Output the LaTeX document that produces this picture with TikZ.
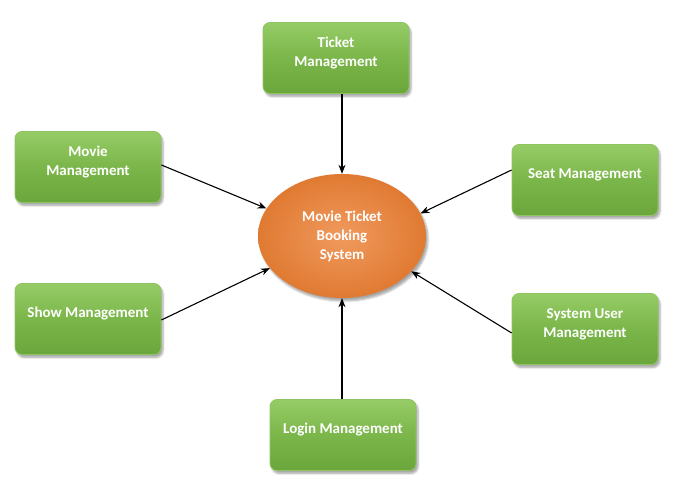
\documentclass[tikz,border=0pt]{standalone}
\usepackage{fontspec}
\setmainfont{Carlito}
\usetikzlibrary{shapes.geometric,shadows.blur,arrows.meta}
\definecolor{gtop}{HTML}{96CC66}
\definecolor{gmid}{HTML}{7BB64A}
\definecolor{gbot}{HTML}{6BA63C}
\definecolor{gedge}{HTML}{8FC560}
\definecolor{otop}{HTML}{F09A5E}
\definecolor{obot}{HTML}{E07A32}
\tikzset{
  modtext/.style={align=center, text=white, font=\fontsize{15}{19}\selectfont\bfseries},
  module/.style={draw=gedge, line width=0.8pt, rounded corners=7pt,
    top color=gtop, bottom color=gbot, middle color=gmid,
    minimum width=146pt, minimum height=71pt,
    blur shadow={shadow xshift=2pt, shadow yshift=-3pt, shadow blur steps=6, shadow opacity=35}},
  hub/.style={ellipse, draw=none, inner color=otop, outer color=obot,
    minimum width=168pt, minimum height=124pt, align=center, text=white,
    font=\fontsize{15}{19}\selectfont\bfseries,
    blur shadow={shadow xshift=2pt, shadow yshift=-3pt, shadow blur steps=6, shadow opacity=35}},
  link/.style={-{Stealth[length=9pt,width=7pt]}, line width=1.1pt, black}
}
\begin{document}
\begin{tikzpicture}[x=1pt,y=1pt]
\useasboundingbox (0,0) rectangle (691,489);
\node[hub] (sys) at (342,253) {Movie Ticket\\Booking\\System};
\node[module, label={[modtext, yshift=5pt]center:Ticket\\Management}] (ticket) at (336,431) {};
\node[module, label={[modtext, yshift=5pt]center:Movie\\Management}] (movie) at (88,322) {};
\node[module, label={[modtext, yshift=5pt]center:Seat Management}] (seat) at (585,309) {};
\node[module, label={[modtext, yshift=5pt]center:Show Management}] (show) at (88,170) {};
\node[module, label={[modtext, yshift=5pt]center:System User\\Management}] (user) at (585,160) {};
\node[module, label={[modtext, yshift=5pt]center:Login Management}] (login) at (343,54) {};
\draw[link] (ticket.south -| sys.north) -- (sys.north);
\draw[link] ([yshift=2pt]movie.east) -- (sys.160);
\draw[link] ([yshift=10pt]seat.west) -- (sys.16);
\draw[link] ([yshift=-1pt]show.east) -- (sys.204);
\draw[link] ([yshift=-4pt]user.west) -- (sys.333);
\draw[link] (login.north -| sys.south) -- (sys.south);
\end{tikzpicture}
\end{document}
